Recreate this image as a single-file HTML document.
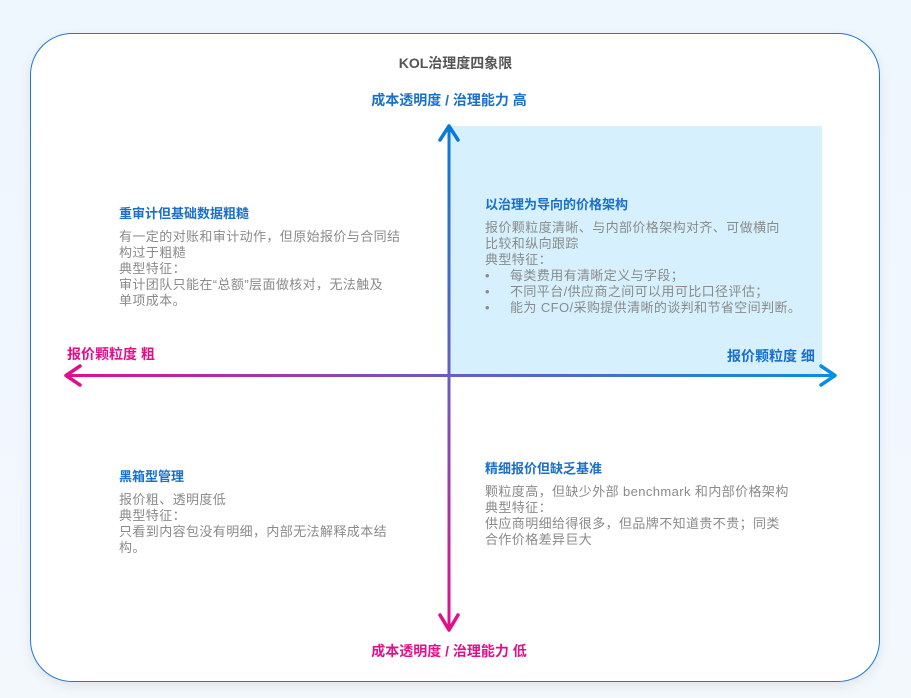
<!DOCTYPE html>
<html><head><meta charset="utf-8"><style>
body{margin:0;width:911px;height:698px;background:linear-gradient(180deg,#eef6fe,#f3f8fd);position:relative;overflow:hidden;font-family:"Liberation Sans","Noto Sans CJK SC",sans-serif}
.card{position:absolute;left:30px;top:33px;width:848px;height:647px;border:1.5px solid #1f78d1;border-radius:42px;background:#fff;box-shadow:0 4px 12px rgba(0,0,0,0.08)}
.t{position:absolute;white-space:nowrap}
.h{font-size:13px;font-weight:bold;color:#1a6fc9}
.b{font-size:13px;letter-spacing:0.4px;color:#8a8a8a;line-height:16px;white-space:nowrap}
.bl{font-weight:bold;font-size:14px}
</style></head><body>
<div class="card"></div>
<div style="position:absolute;left:449px;top:126px;width:373px;height:249px;background:#d6f1fd"></div>
<div class="t" style="left:0;width:911px;text-align:center;top:53px;font-size:14px;font-weight:bold;color:#555">KOL治理度四象限</div>
<div class="t bl" style="left:0;width:898px;text-align:center;top:90px;color:#1a6fc9">成本透明度 / 治理能力 高</div>
<div class="t bl" style="left:0;width:898px;text-align:center;top:641px;color:#e0108a">成本透明度 / 治理能力 低</div>
<div class="t bl" style="left:67px;top:344px;color:#e0108a">报价颗粒度 粗</div>
<div class="t bl" style="left:727px;top:346px;color:#1a6fc9">报价颗粒度 细</div>
<svg width="911" height="698" style="position:absolute;left:0;top:0">
<defs>
<linearGradient id="gh" gradientUnits="userSpaceOnUse" x1="66" y1="0" x2="834" y2="0"><stop offset="0" stop-color="#e0108a"/><stop offset="0.5" stop-color="#6a5cc0"/><stop offset="1" stop-color="#0a8ee0"/></linearGradient>
<linearGradient id="gv" gradientUnits="userSpaceOnUse" x1="0" y1="126" x2="0" y2="630"><stop offset="0" stop-color="#0a7ad8"/><stop offset="0.5" stop-color="#6a5cc0"/><stop offset="1" stop-color="#e0108a"/></linearGradient>
</defs>
<rect x="66" y="374" width="768" height="3" fill="url(#gh)"/>
<polyline points="80,366 66,375.5 80,385" fill="none" stroke="#e0108a" stroke-width="3.5" stroke-linecap="round" stroke-linejoin="round"/>
<polyline points="821,366 835,375.5 821,385" fill="none" stroke="#0a8ee0" stroke-width="3.5" stroke-linecap="round" stroke-linejoin="round"/>
<rect x="447.5" y="126" width="3" height="504" fill="url(#gv)"/>
<polyline points="440,140 449,126 458,140" fill="none" stroke="#0a7ad8" stroke-width="3.5" stroke-linecap="round" stroke-linejoin="round"/>
<polyline points="440,615 449,630 458,615" fill="none" stroke="#e0108a" stroke-width="3.5" stroke-linecap="round" stroke-linejoin="round"/>
</svg>
<div class="t h" style="left:119px;top:203px">重审计但基础数据粗糙</div>
<div class="t b" style="left:119px;top:229px">有一定的对账和审计动作，但原始报价与合同结<br>构过于粗糙<br>典型特征：<br>审计团队只能在“总额”层面做核对，无法触及<br>单项成本。</div>
<div class="t h" style="left:485px;top:194px">以治理为导向的价格架构</div>
<div class="t b" style="left:485px;top:220px">报价颗粒度清晰、与内部价格架构对齐、可做横向<br>比较和纵向跟踪<br>典型特征：<br>•&nbsp;&nbsp;&nbsp;&nbsp;&nbsp;每类费用有清晰定义与字段；<br>•&nbsp;&nbsp;&nbsp;&nbsp;&nbsp;不同平台/供应商之间可以用可比口径评估；<br>•&nbsp;&nbsp;&nbsp;&nbsp;&nbsp;能为 CFO/采购提供清晰的谈判和节省空间判断。</div>
<div class="t h" style="left:119px;top:466px">黑箱型管理</div>
<div class="t b" style="left:119px;top:492px">报价粗、透明度低<br>典型特征：<br>只看到内容包没有明细，内部无法解释成本结<br>构。</div>
<div class="t h" style="left:485px;top:458px">精细报价但缺乏基准</div>
<div class="t b" style="left:485px;top:484px">颗粒度高，但缺少外部 benchmark 和内部价格架构<br>典型特征：<br>供应商明细给得很多，但品牌不知道贵不贵；同类<br>合作价格差异巨大</div>
</body></html>
